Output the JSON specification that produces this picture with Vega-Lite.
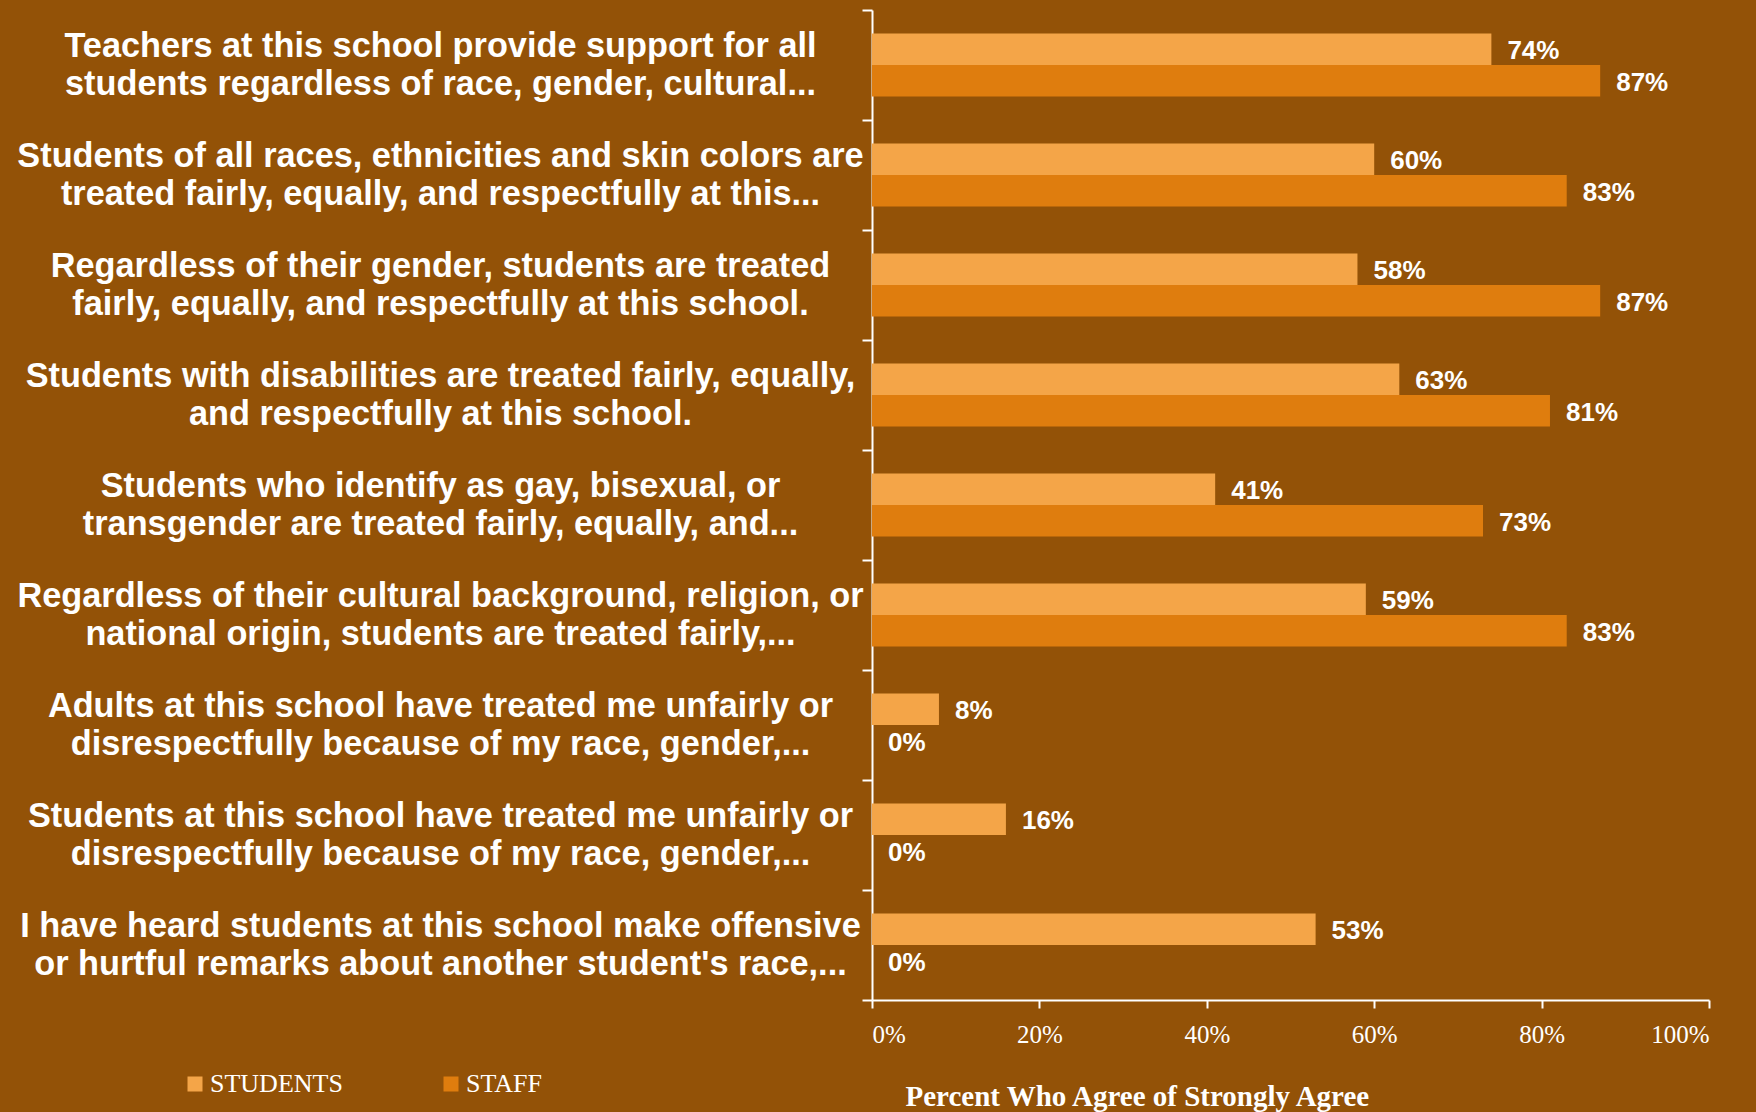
{
  "$schema": "https://vega.github.io/schema/vega-lite/v6.json",
  "autosize": "none",
  "width": 837,
  "height": 990,
  "padding": {"left": 872, "top": 10, "right": 47, "bottom": 112},
  "background": "#935207",
  "config": {"view": {"stroke": null}},
  "data": {
    "values": [
      {"q": "Teachers at this school provide support for all|students regardless of race, gender, cultural...", "group": "STUDENTS", "value": 0.74},
      {"q": "Teachers at this school provide support for all|students regardless of race, gender, cultural...", "group": "STAFF", "value": 0.87},
      {"q": "Students of all races, ethnicities and skin colors are|treated fairly, equally, and respectfully at this...", "group": "STUDENTS", "value": 0.60},
      {"q": "Students of all races, ethnicities and skin colors are|treated fairly, equally, and respectfully at this...", "group": "STAFF", "value": 0.83},
      {"q": "Regardless of their gender, students are treated|fairly, equally, and respectfully at this school.", "group": "STUDENTS", "value": 0.58},
      {"q": "Regardless of their gender, students are treated|fairly, equally, and respectfully at this school.", "group": "STAFF", "value": 0.87},
      {"q": "Students with disabilities are treated fairly, equally,|and respectfully at this school.", "group": "STUDENTS", "value": 0.63},
      {"q": "Students with disabilities are treated fairly, equally,|and respectfully at this school.", "group": "STAFF", "value": 0.81},
      {"q": "Students who identify as gay, bisexual, or|transgender are treated fairly, equally, and...", "group": "STUDENTS", "value": 0.41},
      {"q": "Students who identify as gay, bisexual, or|transgender are treated fairly, equally, and...", "group": "STAFF", "value": 0.73},
      {"q": "Regardless of their cultural background, religion, or|national origin, students are treated fairly,...", "group": "STUDENTS", "value": 0.59},
      {"q": "Regardless of their cultural background, religion, or|national origin, students are treated fairly,...", "group": "STAFF", "value": 0.83},
      {"q": "Adults at this school have treated me unfairly or|disrespectfully because of my race, gender,...", "group": "STUDENTS", "value": 0.08},
      {"q": "Adults at this school have treated me unfairly or|disrespectfully because of my race, gender,...", "group": "STAFF", "value": 0.0},
      {"q": "Students at this school have treated me unfairly or|disrespectfully because of my race, gender,...", "group": "STUDENTS", "value": 0.16},
      {"q": "Students at this school have treated me unfairly or|disrespectfully because of my race, gender,...", "group": "STAFF", "value": 0.0},
      {"q": "I have heard students at this school make offensive|or hurtful remarks about another student's race,...", "group": "STUDENTS", "value": 0.53},
      {"q": "I have heard students at this school make offensive|or hurtful remarks about another student's race,...", "group": "STAFF", "value": 0.0}
    ]
  },
  "encoding": {
    "y": {
      "field": "q",
      "type": "nominal",
      "sort": null,
      "scale": {"paddingInner": 0, "paddingOuter": 0},
      "axis": {
        "title": null,
        "labelExpr": "split(datum.label, '|')",
        "labelFont": "Liberation Sans",
        "labelFontWeight": "bold",
        "labelFontSize": 34.3,
        "labelLineHeight": 38,
        "labelColor": "white",
        "labelLimit": 2000,
        "labelAlign": "center",
        "labelPadding": 422,
        "labelOffset": -19,
        "tickBand": "extent",
        "tickSize": 10,
        "tickWidth": 2,
        "tickColor": "white",
        "domainColor": "white",
        "domainWidth": 2,
        "grid": false
      }
    },
    "yOffset": {
      "field": "group",
      "type": "nominal",
      "sort": ["STUDENTS", "STAFF"],
      "scale": {"paddingInner": 0, "paddingOuter": 0.745}
    },
    "x": {
      "field": "value",
      "type": "quantitative",
      "scale": {"domain": [0, 1]},
      "axis": {
        "values": [0, 0.2, 0.4, 0.6, 0.8, 1],
        "format": ".0%",
        "labelFont": "Liberation Serif",
        "labelFontSize": 25,
        "labelColor": "white",
        "labelPadding": 14,
        "tickSize": 8,
        "tickWidth": 2,
        "tickColor": "white",
        "domainColor": "white",
        "domainWidth": 2,
        "grid": false,
        "title": "Percent Who Agree of Strongly Agree",
        "titleFont": "Liberation Serif",
        "titleFontWeight": "bold",
        "titleFontSize": 29,
        "titleColor": "white",
        "titleAlign": "left",
        "titleBaseline": "alphabetic",
        "titleX": 33,
        "titleY": 105
      }
    }
  },
  "layer": [
    {
      "mark": {"type": "bar"},
      "encoding": {
        "color": {
          "field": "group",
          "type": "nominal",
          "sort": ["STUDENTS", "STAFF"],
          "scale": {"domain": ["STUDENTS", "STAFF"], "range": ["#F4A548", "#DF7D0E"]},
          "legend": {
            "title": null,
            "orient": "none",
            "direction": "horizontal",
            "legendX": -690,
            "legendY": 1061,
            "padding": 0,
            "symbolType": "square",
            "symbolSize": 225,
            "symbolStrokeWidth": 0,
            "symbolOpacity": 1,
            "labelFont": "Liberation Serif",
            "labelFontSize": 26,
            "labelColor": "white",
            "labelOffset": 2,
            "columnPadding": 95
          }
        }
      }
    },
    {
      "mark": {"type": "text", "align": "left", "baseline": "middle", "dx": 16, "dy": 2, "font": "Liberation Sans", "fontWeight": "bold", "fontSize": 26, "color": "white"},
      "encoding": {
        "text": {"field": "value", "type": "quantitative", "format": ".0%"}
      }
    }
  ]
}
